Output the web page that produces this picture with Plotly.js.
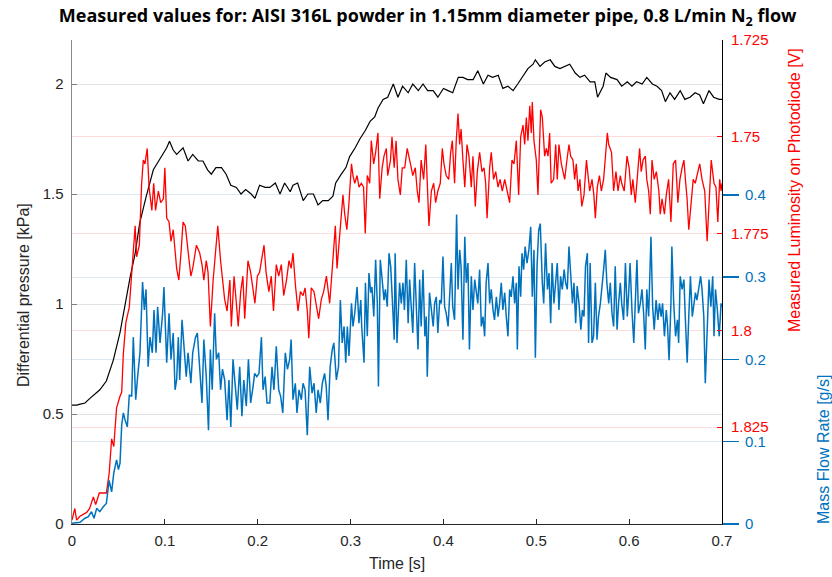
<!DOCTYPE html>
<html>
<head>
<meta charset="utf-8">
<script src="https://cdn.plot.ly/plotly-3.0.1.min.js"></script>
<style>html,body{margin:0;padding:0;background:#fff;}#chart{width:832px;height:577px;}</style>
</head>
<body>
<div id="chart"></div>
<script>
// Differential pressure [kPa] (left axis)
const timeP = [0,0.005,0.009,0.014,0.019,0.025,0.030,0.037,0.0445,0.0517,
0.057,0.0625,0.068,0.073,0.080,0.0876,0.0948,0.102,0.105,0.109,
0.1127,0.1174,0.1196,0.125,0.130,0.136,0.141,0.146,0.150,0.155,
0.161,0.166,0.171,0.177,0.182,0.187,0.193,0.197,0.202,0.208,
0.213,0.219,0.224,0.229,0.235,0.238,0.243,0.249,0.254,0.260,
0.265,0.270,0.276,0.281,0.284,0.290,0.295,0.299,0.305,0.310,
0.316,0.321,0.326,0.3295,0.335,0.340,0.346,0.351,0.356,0.362,
0.367,0.373,0.378,0.383,0.389,0.394,0.400,0.405,0.410,0.416,
0.421,0.426,0.432,0.437,0.443,0.448,0.453,0.459,0.464,0.4695,
0.475,0.480,0.486,0.491,0.4965,0.499,0.504,0.509,0.515,0.520,
0.5255,0.531,0.536,0.542,0.547,0.552,0.558,0.563,0.566,0.572,
0.575,0.580,0.587,0.592,0.598,0.603,0.608,0.614,0.619,0.625,
0.630,0.635,0.639,0.644,0.649,0.655,0.660,0.6655,0.671,0.676,
0.680,0.686,0.691,0.697,0.700];
const pressure = [0.54,0.54,0.545,0.55,0.57,0.59,0.61,0.65,0.745,0.87,
1.0,1.12,1.23,1.37,1.49,1.61,1.66,1.71,1.74,1.70,
1.68,1.70,1.71,1.65,1.68,1.65,1.65,1.61,1.59,1.62,
1.62,1.59,1.54,1.53,1.50,1.52,1.50,1.48,1.54,1.53,
1.53,1.55,1.50,1.55,1.51,1.54,1.55,1.47,1.50,1.50,
1.45,1.47,1.47,1.49,1.55,1.59,1.62,1.67,1.71,1.75,
1.79,1.83,1.85,1.89,1.93,1.94,2.0,1.94,1.99,1.96,
2.0,1.97,2.0,1.97,1.97,1.94,1.98,1.97,1.96,2.03,
2.03,2.02,2.02,2.06,2.0,2.04,2.03,2.04,1.98,1.99,
1.97,2.0,2.04,2.07,2.09,2.11,2.08,2.10,2.11,2.08,
2.07,2.08,2.09,2.05,2.03,2.04,2.01,2.01,1.94,1.99,
2.05,2.03,2.02,1.99,2.01,1.99,2.01,2.0,2.03,2.0,
1.99,1.97,1.92,1.96,1.93,1.97,1.93,1.94,1.96,1.95,
1.91,1.97,1.94,1.93,1.93];

// Measured luminosity on photodiode [V] (red, reversed right axis): [time, value]
const luminosity = [
[0,1.849],[0.003,1.846],[0.005,1.849],[0.0086,1.848],[0.0158,1.847],[0.019,1.846],[0.023,1.843],[0.0255,1.845],[0.0294,1.842],[0.0337,1.842],
[0.037,1.842],[0.040,1.837],[0.0427,1.828],[0.045,1.830],[0.048,1.820],[0.0517,1.817],[0.0535,1.816],[0.0553,1.806],[0.058,1.798],[0.0617,1.794],
[0.0643,1.786],[0.068,1.773],[0.0696,1.781],[0.0725,1.778],[0.075,1.762],[0.0768,1.756],[0.0786,1.757],[0.081,1.753],[0.083,1.763],[0.086,1.769],
[0.088,1.762],[0.090,1.769],[0.093,1.764],[0.0955,1.767],[0.0984,1.766],[0.100,1.758],[0.102,1.771],[0.1045,1.772],[0.1066,1.777],[0.109,1.774],
[0.1127,1.784],[0.115,1.787],[0.1174,1.780],[0.1196,1.772],[0.122,1.773],[0.125,1.779],[0.128,1.786],[0.130,1.784],[0.134,1.778],[0.1375,1.780],
[0.140,1.783],[0.142,1.787],[0.1446,1.782],[0.1465,1.785],[0.149,1.799],[0.152,1.787],[0.154,1.781],[0.157,1.773],[0.160,1.782],[0.162,1.786],
[0.1644,1.792],[0.167,1.795],[0.170,1.787],[0.1716,1.799],[0.1745,1.786],[0.177,1.793],[0.179,1.799],[0.1817,1.790],[0.184,1.786],[0.186,1.797],
[0.1895,1.782],[0.1924,1.785],[0.195,1.790],[0.197,1.793],[0.1996,1.786],[0.202,1.785],[0.204,1.782],[0.2068,1.778],[0.209,1.785],[0.212,1.790],
[0.2146,1.786],[0.217,1.795],[0.220,1.783],[0.2226,1.786],[0.2254,1.783],[0.228,1.791],[0.231,1.787],[0.2337,1.782],[0.236,1.784],[0.238,1.780],
[0.2405,1.788],[0.2434,1.795],[0.246,1.790],[0.2488,1.791],[0.251,1.789],[0.2534,1.795],[0.255,1.802],[0.2577,1.789],[0.2606,1.790],[0.263,1.793],
[0.2656,1.797],[0.2685,1.792],[0.271,1.790],[0.274,1.786],[0.2757,1.790],[0.2775,1.793],[0.280,1.785],[0.282,1.778],[0.2836,1.773],[0.2854,1.784],
[0.2875,1.778],[0.290,1.770],[0.2918,1.765],[0.2937,1.770],[0.296,1.774],[0.298,1.768],[0.301,1.757],[0.3026,1.760],[0.3045,1.762],[0.307,1.760],
[0.3091,1.763],[0.3116,1.762],[0.314,1.763],[0.3158,1.775],[0.318,1.760],[0.3206,1.762],[0.3223,1.751],[0.3249,1.757],[0.327,1.754],[0.3295,1.749],
[0.3314,1.766],[0.334,1.758],[0.336,1.755],[0.3385,1.753],[0.340,1.760],[0.343,1.756],[0.3446,1.750],[0.347,1.758],[0.349,1.751],[0.351,1.761],
[0.3536,1.765],[0.3557,1.758],[0.3583,1.758],[0.361,1.753],[0.363,1.755],[0.3654,1.758],[0.367,1.760],[0.3697,1.758],[0.3718,1.764],[0.3737,1.767],
[0.376,1.756],[0.3787,1.761],[0.381,1.752],[0.383,1.765],[0.3844,1.773],[0.387,1.764],[0.3895,1.762],[0.3916,1.767],[0.394,1.764],[0.3966,1.762],
[0.3988,1.753],[0.4006,1.757],[0.403,1.760],[0.4057,1.761],[0.4078,1.754],[0.4096,1.751],[0.412,1.762],[0.4138,1.751],[0.4157,1.744],[0.4175,1.752],
[0.419,1.748],[0.421,1.756],[0.423,1.763],[0.4254,1.752],[0.4275,1.755],[0.430,1.763],[0.4318,1.755],[0.4343,1.768],[0.4365,1.759],[0.439,1.754],
[0.4415,1.759],[0.4437,1.758],[0.4455,1.762],[0.447,1.771],[0.4498,1.758],[0.4515,1.754],[0.454,1.761],[0.4563,1.759],[0.4588,1.763],[0.461,1.761],
[0.4634,1.764],[0.466,1.761],[0.4684,1.764],[0.4713,1.767],[0.4738,1.756],[0.476,1.757],[0.4785,1.751],[0.481,1.765],[0.4832,1.750],[0.4857,1.747],
[0.4875,1.752],[0.4893,1.745],[0.491,1.751],[0.493,1.742],[0.4946,1.749],[0.4957,1.741],[0.4975,1.751],[0.500,1.756],[0.5018,1.765],[0.5047,1.743],
[0.5065,1.745],[0.509,1.755],[0.5108,1.753],[0.5126,1.755],[0.5144,1.749],[0.516,1.762],[0.5187,1.761],[0.5209,1.752],[0.5226,1.761],[0.5244,1.752],
[0.527,1.757],[0.5287,1.759],[0.5306,1.761],[0.533,1.756],[0.5352,1.752],[0.537,1.755],[0.5395,1.756],[0.5413,1.761],[0.5431,1.757],[0.545,1.764],
[0.547,1.761],[0.549,1.768],[0.5514,1.765],[0.554,1.756],[0.5557,1.761],[0.5575,1.764],[0.560,1.761],[0.562,1.765],[0.5636,1.771],[0.5657,1.763],
[0.568,1.760],[0.570,1.764],[0.5725,1.761],[0.5747,1.754],[0.5765,1.749],[0.578,1.752],[0.581,1.754],[0.5833,1.764],[0.5858,1.759],[0.588,1.764],
[0.5905,1.760],[0.592,1.762],[0.5947,1.764],[0.5977,1.755],[0.600,1.758],[0.6023,1.765],[0.604,1.761],[0.6066,1.767],[0.609,1.760],[0.6113,1.753],
[0.613,1.759],[0.615,1.756],[0.6174,1.755],[0.619,1.761],[0.621,1.764],[0.6228,1.770],[0.6246,1.756],[0.627,1.761],[0.6293,1.759],[0.632,1.764],
[0.6335,1.770],[0.6354,1.766],[0.638,1.770],[0.640,1.765],[0.6425,1.761],[0.645,1.772],[0.6475,1.757],[0.650,1.756],[0.6525,1.767],[0.6547,1.761],
[0.657,1.758],[0.659,1.756],[0.6606,1.761],[0.6624,1.766],[0.6642,1.774],[0.6668,1.766],[0.669,1.761],[0.6712,1.762],[0.674,1.759],[0.676,1.757],
[0.6785,1.761],[0.6814,1.764],[0.684,1.777],[0.6865,1.764],[0.6884,1.756],[0.6914,1.762],[0.6935,1.763],[0.6955,1.772],[0.6975,1.761],[0.699,1.764],
[0.700,1.762]];

// Mass flow rate [g/s] (blue, second right axis): [time, value]
const massFlow = [
[0,0.001],[0.0086,0.002],[0.014,0.007],[0.0176,0.009],[0.021,0.015],[0.0237,0.007],[0.0266,0.019],[0.030,0.015],[0.0337,0.021],[0.037,0.025],
[0.040,0.053],[0.0427,0.039],[0.045,0.062],[0.048,0.078],[0.050,0.066],[0.0517,0.074],[0.0535,0.120],[0.0553,0.135],[0.057,0.127],[0.0596,0.118],
[0.0617,0.157],[0.0643,0.155],[0.066,0.227],[0.0686,0.151],[0.0707,0.179],[0.0732,0.208],[0.076,0.294],[0.0779,0.260],[0.0797,0.285],[0.082,0.191],
[0.084,0.227],[0.0865,0.208],[0.0883,0.260],[0.0905,0.208],[0.0922,0.264],[0.0948,0.220],[0.0976,0.256],[0.099,0.288],[0.102,0.196],[0.1045,0.256],
[0.1066,0.200],[0.109,0.232],[0.111,0.163],[0.1127,0.175],[0.1145,0.227],[0.116,0.175],[0.1185,0.248],[0.1206,0.216],[0.123,0.179],[0.125,0.208],
[0.128,0.171],[0.130,0.208],[0.133,0.227],[0.135,0.232],[0.1375,0.191],[0.140,0.147],[0.142,0.224],[0.1446,0.179],[0.147,0.114],[0.149,0.212],
[0.151,0.163],[0.1536,0.256],[0.1555,0.200],[0.158,0.208],[0.160,0.163],[0.162,0.188],[0.1644,0.175],[0.167,0.126],[0.169,0.175],[0.171,0.118],
[0.1734,0.200],[0.176,0.163],[0.178,0.139],[0.1806,0.191],[0.183,0.131],[0.185,0.175],[0.1877,0.143],[0.190,0.200],[0.1924,0.147],[0.195,0.167],
[0.1967,0.183],[0.199,0.179],[0.2014,0.183],[0.204,0.227],[0.2057,0.163],[0.208,0.179],[0.210,0.147],[0.213,0.147],[0.2154,0.191],[0.2175,0.163],
[0.220,0.216],[0.2226,0.163],[0.2247,0.155],[0.227,0.135],[0.2297,0.208],[0.232,0.188],[0.2344,0.200],[0.236,0.224],[0.238,0.151],[0.2405,0.171],
[0.2423,0.135],[0.2445,0.163],[0.247,0.151],[0.2488,0.171],[0.251,0.163],[0.2534,0.108],[0.256,0.191],[0.2585,0.159],[0.2606,0.171],[0.263,0.135],
[0.265,0.163],[0.2674,0.147],[0.2696,0.171],[0.272,0.183],[0.2738,0.167],[0.2757,0.126],[0.278,0.191],[0.2803,0.212],[0.282,0.220],[0.2847,0.175],
[0.287,0.191],[0.289,0.272],[0.291,0.220],[0.293,0.240],[0.2948,0.196],[0.2965,0.240],[0.2983,0.204],[0.301,0.268],[0.3026,0.240],[0.3045,0.256],
[0.307,0.288],[0.309,0.244],[0.311,0.272],[0.312,0.240],[0.3145,0.196],[0.316,0.293],[0.318,0.228],[0.3198,0.305],[0.3217,0.281],[0.323,0.288],
[0.325,0.252],[0.327,0.321],[0.3288,0.268],[0.330,0.167],[0.332,0.321],[0.334,0.297],[0.336,0.272],[0.3375,0.285],[0.3395,0.264],[0.3414,0.329],
[0.3432,0.313],[0.345,0.272],[0.347,0.224],[0.348,0.329],[0.350,0.220],[0.3528,0.293],[0.3546,0.268],[0.3564,0.293],[0.358,0.260],[0.360,0.321],
[0.362,0.244],[0.3636,0.297],[0.3654,0.260],[0.367,0.232],[0.369,0.317],[0.371,0.268],[0.3726,0.212],[0.3744,0.297],[0.376,0.240],[0.378,0.309],
[0.380,0.228],[0.3815,0.252],[0.3826,0.179],[0.385,0.281],[0.387,0.256],[0.389,0.240],[0.3905,0.268],[0.3923,0.276],[0.394,0.232],[0.396,0.272],
[0.3977,0.268],[0.3995,0.325],[0.4013,0.264],[0.403,0.256],[0.405,0.240],[0.4067,0.272],[0.4085,0.317],[0.410,0.264],[0.412,0.248],[0.4142,0.376],
[0.4157,0.285],[0.4175,0.333],[0.419,0.313],[0.421,0.224],[0.423,0.349],[0.4246,0.293],[0.4264,0.317],[0.428,0.212],[0.430,0.301],[0.4318,0.260],
[0.4337,0.297],[0.4355,0.281],[0.437,0.268],[0.439,0.309],[0.4408,0.240],[0.4426,0.252],[0.4444,0.228],[0.446,0.293],[0.448,0.317],[0.4498,0.268],
[0.4515,0.285],[0.4534,0.260],[0.455,0.248],[0.457,0.276],[0.4588,0.252],[0.4605,0.268],[0.4623,0.293],[0.464,0.260],[0.466,0.281],[0.4677,0.252],
[0.4695,0.228],[0.4713,0.285],[0.473,0.276],[0.4749,0.301],[0.4767,0.268],[0.4785,0.293],[0.4796,0.212],[0.4814,0.313],[0.4832,0.276],[0.4846,0.329],
[0.4864,0.309],[0.488,0.337],[0.490,0.317],[0.492,0.333],[0.494,0.361],[0.4957,0.276],[0.4975,0.333],[0.499,0.202],[0.5008,0.313],[0.5026,0.357],
[0.5043,0.365],[0.5065,0.293],[0.508,0.268],[0.510,0.341],[0.512,0.285],[0.5137,0.305],[0.5155,0.244],[0.517,0.317],[0.519,0.268],[0.5208,0.293],
[0.5226,0.317],[0.5244,0.260],[0.5262,0.301],[0.528,0.285],[0.530,0.309],[0.5316,0.293],[0.5334,0.285],[0.5352,0.337],[0.537,0.309],[0.539,0.268],
[0.5406,0.293],[0.5424,0.244],[0.544,0.289],[0.546,0.268],[0.548,0.236],[0.5496,0.260],[0.5514,0.252],[0.553,0.313],[0.555,0.329],[0.5563,0.220],
[0.558,0.317],[0.560,0.220],[0.5617,0.228],[0.5636,0.293],[0.5654,0.224],[0.567,0.252],[0.569,0.268],[0.5707,0.293],[0.5725,0.309],[0.5743,0.333],
[0.576,0.293],[0.578,0.268],[0.5797,0.293],[0.5815,0.256],[0.5833,0.240],[0.585,0.313],[0.587,0.236],[0.5886,0.268],[0.5905,0.293],[0.592,0.268],
[0.594,0.248],[0.596,0.317],[0.598,0.252],[0.5995,0.281],[0.601,0.317],[0.603,0.260],[0.605,0.220],[0.6066,0.268],[0.6084,0.321],[0.610,0.256],
[0.612,0.268],[0.6138,0.285],[0.6156,0.256],[0.6174,0.212],[0.619,0.285],[0.621,0.252],[0.6235,0.349],[0.6253,0.264],[0.627,0.236],[0.629,0.272],
[0.631,0.248],[0.6326,0.268],[0.6345,0.252],[0.636,0.268],[0.638,0.228],[0.640,0.260],[0.6414,0.240],[0.643,0.199],[0.645,0.268],[0.646,0.337],
[0.648,0.268],[0.650,0.228],[0.652,0.248],[0.6533,0.220],[0.655,0.301],[0.657,0.285],[0.659,0.297],[0.6606,0.248],[0.6625,0.196],[0.6642,0.252],
[0.666,0.301],[0.668,0.252],[0.6696,0.268],[0.6714,0.281],[0.673,0.272],[0.675,0.285],[0.677,0.301],[0.6785,0.285],[0.6804,0.252],[0.682,0.171],
[0.684,0.236],[0.686,0.297],[0.688,0.264],[0.690,0.301],[0.6914,0.228],[0.693,0.285],[0.695,0.260],[0.697,0.228],[0.699,0.268],[0.700,0.264]];

const xTicks = [0,0.1,0.2,0.3,0.4,0.5,0.6,0.7];
const xTickText = ['0','0.1','0.2','0.3','0.4','0.5','0.6','0.7'];
const pTicks = [0,0.5,1,1.5,2];
const pTickText = ['0','0.5','1','1.5','2'];
const lTicks = [1.725,1.75,1.775,1.8,1.825];
const lTickText = ['1.725','1.75','1.775','1.8','1.825'];
const mTicks = [0,0.1,0.2,0.3,0.4];
const mTickText = ['0','0.1','0.2','0.3','0.4'];

const RED = '#ff0000', BLUE = '#0072BD', DARK = '#262626';

const traces = [
  {x: luminosity.map(p => p[0]), y: luminosity.map(p => p[1]), yaxis: 'y2', type: 'scatter', mode: 'lines',
   line: {color: RED, width: 1.3}, name: 'Luminosity', hoverinfo: 'x+y'},
  {x: massFlow.map(p => p[0]), y: massFlow.map(p => p[1]), yaxis: 'y3', type: 'scatter', mode: 'lines',
   line: {color: BLUE, width: 1.5}, name: 'Mass flow', hoverinfo: 'x+y'},
  {x: timeP, y: pressure, yaxis: 'y', type: 'scatter', mode: 'lines',
   line: {color: '#000000', width: 1.2}, name: 'Pressure', hoverinfo: 'x+y'}
];

const tickFont = {family: 'Liberation Sans, Arial, sans-serif', size: 15};

const layout = {
  width: 832, height: 577,
  margin: {l: 72, r: 110, t: 40, b: 53, pad: 0},
  paper_bgcolor: '#ffffff', plot_bgcolor: '#ffffff',
  showlegend: false,
  font: {family: 'Liberation Sans, Arial, sans-serif', size: 15, color: DARK},
  title: {
    text: '<b>Measured values for: AISI 316L powder in 1.15mm diameter pipe, 0.8 L/min N<sub>2</sub> flow</b>',
    font: {family: 'Open Sans, sans-serif', size: 18, color: '#000000'},
    x: 0.514, xref: 'container', xanchor: 'center',
    y: 1 - 16/577, yref: 'container', yanchor: 'middle'
  },
  xaxis: {
    range: [0, 0.7], tickvals: xTicks, ticktext: xTickText,
    ticks: 'inside', ticklen: 5, tickcolor: DARK, tickwidth: 1,
    showline: true, linecolor: DARK, linewidth: 1,
    showgrid: false, zeroline: false, tickfont: Object.assign({color: DARK}, tickFont),
    ticklabelstandoff: 3, fixedrange: true
  },
  yaxis: {
    range: [0, 2.2], tickvals: pTicks, ticktext: pTickText,
    ticks: 'inside', ticklen: 5, tickcolor: '#7f7f7f', tickwidth: 1,
    showline: true, linecolor: '#8a8a8a', linewidth: 1.5,
    showgrid: true, gridcolor: '#e2e2e2', gridwidth: 1,
    zeroline: false, tickfont: Object.assign({color: DARK}, tickFont),
    ticklabelstandoff: 4, fixedrange: true
  },
  yaxis2: {
    overlaying: 'y', side: 'right', anchor: 'x',
    range: [1.85, 1.725], tickvals: lTicks, ticktext: lTickText,
    ticks: 'inside', ticklen: 5, tickcolor: RED, tickwidth: 1,
    showline: true, linecolor: '#000000', linewidth: 1,
    showgrid: true, gridcolor: '#ffdcdc', gridwidth: 1,
    zeroline: false, tickfont: Object.assign({color: RED}, tickFont),
    ticklabelstandoff: 5, fixedrange: true
  },
  yaxis3: {
    overlaying: 'y', side: 'right', anchor: 'x',
    range: [0, 0.588], tickvals: mTicks, ticktext: mTickText,
    ticks: 'outside', ticklen: 16, tickcolor: BLUE, tickwidth: 1.5,
    showline: false,
    showgrid: true, gridcolor: '#dbe8f3', gridwidth: 1,
    zeroline: false, tickfont: Object.assign({color: BLUE}, tickFont),
    ticklabelstandoff: 3, fixedrange: true
  },
  annotations: [
    {text: 'Time [s]', xref: 'paper', yref: 'paper', x: 0.5, y: (524 - 563) / 484,
     xanchor: 'center', yanchor: 'middle', showarrow: false,
     font: {family: 'Liberation Sans, Arial, sans-serif', size: 16, color: DARK}},
    {text: 'Differential pressure [kPa]', xref: 'paper', yref: 'paper', x: (23 - 72) / 650, y: (524 - 295) / 484,
     xanchor: 'center', yanchor: 'middle', textangle: -90, showarrow: false,
     font: {family: 'Liberation Sans, Arial, sans-serif', size: 16, color: DARK}},
    {text: 'Measured Luminosity on Photodiode [V]', xref: 'paper', yref: 'paper', x: (795 - 72) / 650, y: (524 - 190) / 484,
     xanchor: 'center', yanchor: 'middle', textangle: -90, showarrow: false,
     font: {family: 'Liberation Sans, Arial, sans-serif', size: 16, color: RED}},
    {text: 'Mass Flow Rate [g/s]', xref: 'paper', yref: 'paper', x: (823 - 72) / 650, y: (524 - 450) / 484,
     xanchor: 'center', yanchor: 'middle', textangle: -90, showarrow: false,
     font: {family: 'Liberation Sans, Arial, sans-serif', size: 16, color: BLUE}}
  ]
};

Plotly.newPlot('chart', traces, layout, {displayModeBar: false, staticPlot: true});
</script>
</body>
</html>
